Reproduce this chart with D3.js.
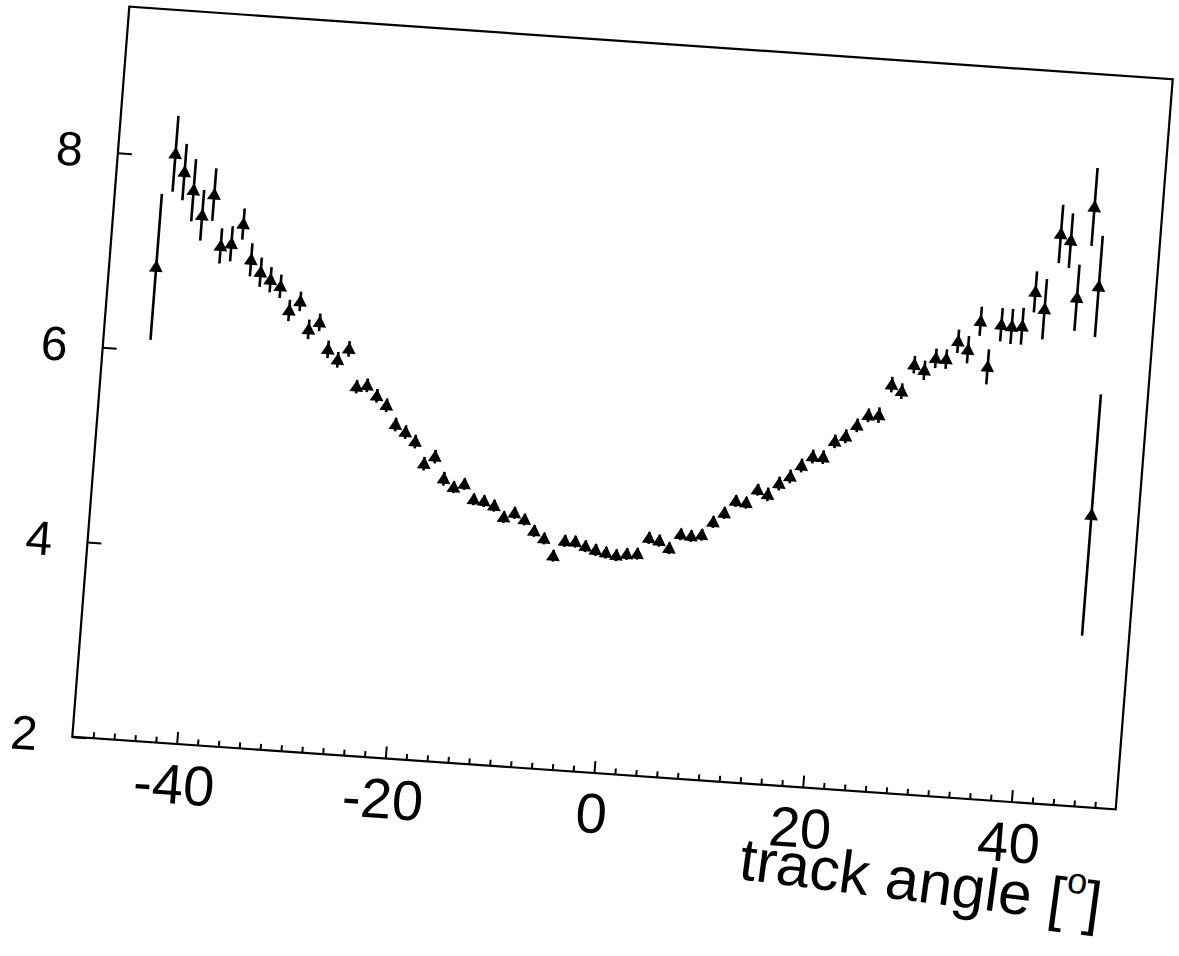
<!DOCTYPE html>
<html>
<head>
<meta charset="utf-8">
<script src="https://cdn.jsdelivr.net/npm/d3@7"></script>
<style>
  html, body { margin: 0; padding: 0; background: #fff; }
  svg { display: block; }
  text { font-family: "Liberation Sans", Arial, Helvetica, sans-serif; fill: #000; }
</style>
</head>
<body>
<div id="chart"></div>
<script>
// bin centres (track angle, degrees)
let angles = [
  -45.5,-44.5,-43.5,-42.5,-41.5,-40.5,-39.5,-38.5,-37.5,-36.5,
  -35.5,-34.5,-33.5,-32.5,-31.5,-30.5,-29.5,-28.5,-27.5,-26.5,
  -25.5,-24.5,-23.5,-22.5,-21.5,-20.5,-19.5,-18.5,-17.5,-16.5,
  -15.5,-14.5,-13.5,-12.5,-11.5,-10.5,-9.5,-8.5,-7.5,-6.5,
  -5.5,-4.5,-3.5,-2.5,-1.5,-0.5,0.5,1.5,2.5,3.5,
  4.5,5.5,6.5,7.5,8.5,9.5,10.5,11.5,12.5,13.5,
  14.5,15.5,16.5,17.5,18.5,19.5,20.5,21.5,22.5,23.5,
  24.5,25.5,26.5,27.5,28.5,29.5,30.5,31.5,32.5,33.5,
  34.5,35.5,36.5,37.5,38.5,39.5,40.5,41.5,42.5,43.5,
  44.5,45.5
];
let values = [
  6.86,8.03,7.85,7.67,7.42,7.64,7.12,7.15,7.36,7.00,
  6.88,6.81,6.75,6.51,6.61,6.33,6.41,6.14,6.04,6.16,
  5.78,5.80,5.70,5.61,5.42,5.35,5.26,5.04,5.12,4.90,
  4.82,4.86,4.71,4.70,4.66,4.55,4.60,4.54,4.43,4.36,
  4.19,4.35,4.35,4.31,4.28,4.26,4.24,4.26,4.27,4.44,
  4.42,4.35,4.50,4.49,4.51,4.65,4.75,4.88,4.87,5.01,
  4.97,5.09,5.17,5.29,5.39,5.39,5.56,5.62,5.74,5.85,
  5.86,6.18,6.12,6.40,6.35,6.48,6.48,6.67,6.59,6.89,
  6.43,6.87,6.86,6.87,7.23,7.06,7.84,7.78,7.20,8.14,
  7.33,4.99
];
let errors = [
  0.75,0.39,0.29,0.32,0.26,0.27,0.18,0.18,0.16,0.17,
  0.15,0.13,0.12,0.11,0.10,0.10,0.09,0.09,0.08,0.08,
  0.07,0.07,0.07,0.07,0.07,0.07,0.07,0.07,0.07,0.07,
  0.06,0.06,0.06,0.06,0.06,0.06,0.06,0.06,0.06,0.06,
  0.06,0.06,0.06,0.06,0.06,0.06,0.06,0.06,0.06,0.06,
  0.06,0.06,0.06,0.06,0.06,0.06,0.06,0.06,0.06,0.06,
  0.07,0.07,0.07,0.07,0.07,0.07,0.07,0.07,0.07,0.07,
  0.08,0.08,0.08,0.09,0.10,0.10,0.10,0.12,0.14,0.15,
  0.18,0.17,0.18,0.19,0.21,0.31,0.30,0.28,0.34,0.40,
  0.52,1.24
];
let xMajorTicks = [-40, -20, 0, 20, 40];
let xMinorTicks = [-48,-46,-44,-42,-38,-36,-34,-32,-30,-28,-26,-24,-22,
  -18,-16,-14,-12,-10,-8,-6,-4,-2,2,4,6,8,10,12,14,16,18,
  22,24,26,28,30,32,34,36,38,42,44,46,48];
let yTicks = [2, 4, 6, 8];
let xTitle = "track angle [";

var width = 1179, height = 956;
var W = 1044, H = 732;

let svg = d3.select('#chart').append('svg')
  .attr('width', width)
  .attr('height', height);

svg.append('rect').attr('width', width).attr('height', height).attr('fill', '#fff');

// the scanned page sits slightly skewed, so the whole frame is tilted
let g = svg.append('g')
  .attr('transform', 'matrix(0.99943,0.06954,-0.07787,0.99727,129.3,6.7)');

let x = d3.scaleLinear().domain([-50, 50]).range([0, W]);
let y = d3.scaleLinear().domain([2, 9.5]).range([H, 0]);

// minor x ticks
g.append('g')
  .attr('transform', 'translate(0,' + H + ')')
  .call(d3.axisBottom(x).tickValues(xMinorTicks).tickSize(-6).tickFormat(''))
  .call(a => a.select('.domain').remove())
  .call(a => a.selectAll('line').attr('stroke', '#000').attr('stroke-width', 2));

// major x ticks + labels
g.append('g')
  .attr('transform', 'translate(0,' + H + ')')
  .call(d3.axisBottom(x).tickValues(xMajorTicks).tickSize(-12).tickPadding(20).tickFormat(d3.format('d')))
  .call(a => a.select('.domain').remove())
  .call(a => a.selectAll('line').attr('stroke', '#000').attr('stroke-width', 2))
  .call(a => a.selectAll('text')
    .attr('font-size', 56)
    .attr('fill', '#000')
    .style('font-family', '"Liberation Sans", Arial, sans-serif')
    .text(d => d < 0 ? '-' + Math.abs(d) : d));

// y ticks + labels
g.append('g')
  .call(d3.axisLeft(y).tickValues(yTicks).tickSize(-14).tickPadding(35).tickFormat(d3.format('d')))
  .call(a => a.select('.domain').remove())
  .call(a => a.selectAll('line').attr('stroke', '#000').attr('stroke-width', 2))
  .call(a => a.selectAll('text')
    .attr('font-size', 48)
    .attr('fill', '#000')
    .style('font-family', '"Liberation Sans", Arial, sans-serif'));

// frame
g.append('rect')
  .attr('x', 0).attr('y', 0)
  .attr('width', W).attr('height', H)
  .attr('fill', 'none')
  .attr('stroke', '#000')
  .attr('stroke-width', 2.2);

let points = angles.map((a, i) => ({ a: a, v: values[i], e: errors[i] }));

// error bars
g.append('g').selectAll('line')
  .data(points)
  .enter().append('line')
  .attr('x1', d => x(d.a)).attr('x2', d => x(d.a))
  .attr('y1', d => y(d.v - d.e)).attr('y2', d => y(d.v + d.e))
  .attr('stroke', '#000')
  .attr('stroke-width', 2.6);

// triangle markers
let tri = d3.symbol().type(d3.symbolTriangle).size(82);
g.append('g').selectAll('path')
  .data(points)
  .enter().append('path')
  .attr('d', tri)
  .attr('transform', d => 'translate(' + x(d.a) + ',' + (y(d.v) + 1) + ')')
  .attr('fill', '#000');

// axis title
let title = g.append('text')
  .attr('x', 1036).attr('y', 848)
  .attr('text-anchor', 'end')
  .attr('font-size', 60)
  .attr('transform', 'rotate(3.2,1036,848)');
title.append('tspan').text(xTitle);
title.append('tspan').attr('font-size', 36).attr('dy', -28).text('o');
title.append('tspan').attr('dy', 28).text(']');
</script>
</body>
</html>
